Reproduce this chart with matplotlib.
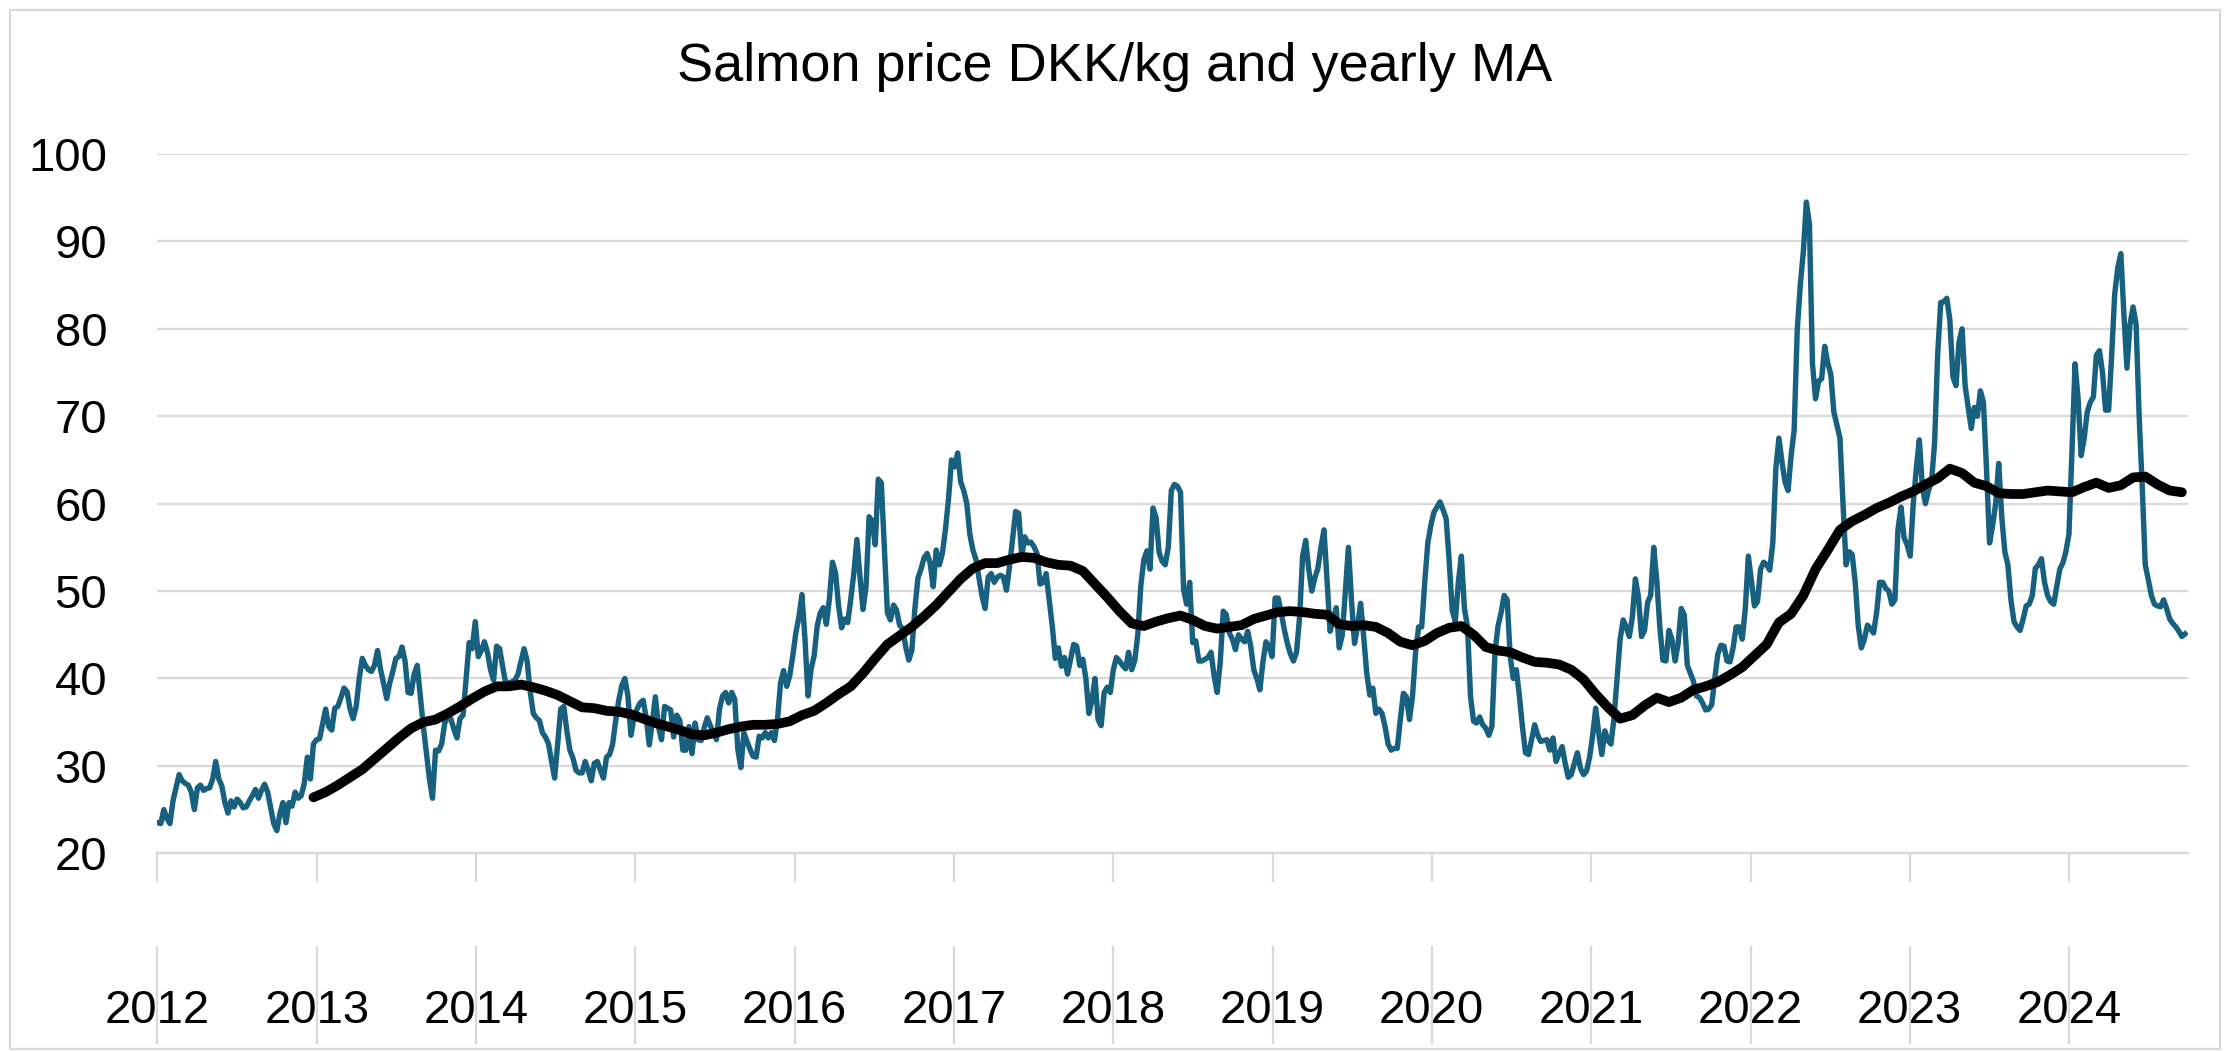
import datetime as dt

import matplotlib
matplotlib.use("Agg")
import matplotlib.pyplot as plt
import pandas as pd
from matplotlib.patches import Rectangle

# weekly salmon price in DKK/kg, one value per week from the first week of 2012
price = [
    23.5, 23.4, 25.0, 24.0, 23.4, 26.0, 27.5, 29.0, 28.3, 28.0, 27.8, 27.0, 25.0,
    27.5, 27.8, 27.2, 27.4, 27.5, 28.5, 30.5, 28.5, 27.7, 25.8, 24.6, 26.0, 25.3,
    26.2, 25.8, 25.2, 25.3, 26.0, 26.6, 27.3, 26.3, 27.2, 27.9, 27.0, 25.2, 23.4,
    22.6, 24.5, 25.8, 23.5, 25.8, 25.4, 27.0, 26.3, 26.6, 28.0, 31.0, 28.5, 32.5,
    33.0, 33.1, 34.8, 36.5, 34.5, 34.1, 36.6, 36.8, 37.8, 38.9, 38.5, 36.5, 35.4,
    36.8, 40.0, 42.3, 41.5, 41.0, 40.8, 41.5, 43.2, 41.0, 39.4, 37.7, 39.5, 40.8,
    42.3, 42.5, 43.6, 42.0, 38.4, 38.3, 40.5, 41.5, 38.0, 34.5, 31.5, 28.5, 26.3,
    31.8, 31.7, 32.5, 34.9, 35.6, 35.4, 34.2, 33.2, 35.4, 35.8, 40.0, 44.1, 43.4,
    46.5, 42.5, 43.2, 44.2, 43.0, 41.0, 39.8, 43.7, 43.4, 41.3, 39.4, 39.5, 39.6,
    39.8, 40.5, 42.0, 43.4, 42.0, 38.5, 36.0, 35.5, 35.2, 33.8, 33.3, 32.5, 30.5,
    28.6, 32.5, 36.5, 36.8, 34.0, 31.8, 30.9, 29.5, 29.2, 29.2, 30.5, 29.5, 28.3,
    30.3, 30.5, 29.5, 28.6, 31.0, 31.3, 32.5, 35.2, 37.5, 39.2, 40.0, 38.0, 33.5,
    35.6, 36.5, 37.2, 37.5, 35.5, 32.4, 35.0, 37.9, 34.5, 33.0, 36.8, 36.6, 36.4,
    33.3, 35.8, 35.2, 31.8, 31.8, 34.5, 31.4, 34.9, 33.0, 32.9, 34.4, 35.5, 34.6,
    33.8, 33.0, 36.5, 38.0, 38.4, 37.2, 38.4, 37.6, 31.9, 29.8, 33.8, 32.8, 31.9,
    31.1, 31.0, 33.4, 33.2, 33.8, 33.2, 33.8, 32.9, 35.3, 39.5, 40.9, 39.1, 40.3,
    42.6, 45.2, 47.0, 49.6, 44.5, 38.0, 41.1, 42.6, 46.0, 47.5, 48.1, 46.2, 49.1,
    53.3, 52.1, 48.3, 45.8, 46.8, 46.4, 49.1, 52.0, 55.9, 51.7, 47.9, 50.5, 58.5,
    58.0, 55.3, 62.8, 62.4, 55.0, 47.5, 46.7, 48.4, 47.8, 46.1, 45.7, 43.6, 42.1,
    43.2, 48.0, 51.5, 52.5, 53.8, 54.3, 53.2, 50.5, 54.7, 53.0, 54.3, 57.0, 60.5,
    65.0, 64.2, 65.8, 62.5, 61.5, 60.0, 56.5, 54.7, 53.6, 51.5, 49.4, 48.0, 51.6,
    52.0, 51.0, 51.6, 51.8, 51.6, 50.1, 52.8, 56.0, 59.1, 58.9, 54.0, 56.2, 55.5,
    55.6, 55.1, 54.3, 50.8, 51.0, 52.0, 49.0, 46.0, 42.3, 43.5, 41.4, 42.4, 40.5,
    42.2, 43.9, 43.7, 41.5, 42.2, 40.0, 36.0, 37.5, 40.0, 35.3, 34.6, 38.4, 39.0,
    38.4, 41.0, 42.4, 42.0, 41.5, 41.1, 43.0, 41.0, 42.0, 45.0, 50.6, 53.6, 54.6,
    52.5, 59.5, 58.4, 54.4, 53.4, 53.0, 55.0, 61.5, 62.2, 62.0, 61.3, 50.2, 48.5,
    51.0, 44.1, 44.3, 42.0, 42.0, 42.2, 42.4, 43.0, 40.3, 38.4, 41.8, 47.7, 47.3,
    45.2, 44.5, 43.3, 45.0, 44.5, 44.2, 45.4, 43.7, 41.0, 40.0, 38.7, 41.9, 44.2,
    43.7, 42.5, 49.2, 49.2, 47.5, 45.6, 44.0, 42.8, 42.0, 43.0, 47.0, 54.0, 55.8,
    52.5, 50.0, 51.5, 52.6, 55.0, 57.0, 51.3, 45.4, 46.7, 48.1, 43.5, 45.0, 50.0,
    55.0, 49.0, 44.0, 46.0, 48.6, 44.8, 40.6, 38.1, 38.9, 36.0, 36.5, 36.0, 34.5,
    32.5, 31.8, 32.0, 32.0, 35.3, 38.3, 37.9, 35.3, 38.0, 43.0, 45.9, 45.9, 51.0,
    55.5, 57.5, 59.0, 59.6, 60.2, 59.3, 58.3, 53.5, 47.8, 46.5, 51.0, 54.0, 48.0,
    45.9, 37.9, 35.1, 34.9, 35.6, 34.7, 34.3, 33.5, 34.5, 43.0, 46.0, 47.5, 49.5,
    49.0, 42.5, 40.0, 41.0, 38.0, 34.5, 31.5, 31.3, 33.0, 34.7, 33.5, 32.8, 32.9,
    33.0, 31.8, 33.2, 30.5, 31.4, 32.2, 30.3, 28.7, 29.0, 30.3, 31.5, 29.7, 29.0,
    29.4, 31.0, 33.5, 36.6, 33.7, 31.3, 34.0, 32.9, 32.5, 35.5, 40.0, 44.5, 46.7,
    45.9, 44.8, 47.0, 51.4, 49.3, 44.8, 45.5, 48.7, 49.5, 55.0, 51.2, 45.9, 42.1,
    42.0, 45.5, 44.4, 42.0, 44.0, 48.0, 47.3, 41.5, 40.6, 39.7, 38.0, 37.8, 37.2,
    36.4, 36.5, 37.0, 40.0, 42.8, 43.8, 43.7, 42.0, 41.9, 43.5, 45.9, 45.9, 44.5,
    48.0, 54.0, 51.2, 48.3, 48.8, 52.5, 53.3, 53.0, 52.4, 55.5, 64.0, 67.5, 64.8,
    62.5, 61.5, 65.5, 68.4, 79.8, 85.0, 88.8, 94.5, 92.0, 76.0, 72.0, 74.0, 74.3,
    78.0, 76.1, 74.8, 70.5, 69.0, 67.5, 60.0, 53.0, 54.5, 54.2, 51.0, 46.0, 43.5,
    44.5, 46.1, 45.7, 45.2, 47.5, 51.0, 51.0, 50.3, 50.0, 48.5, 49.0, 57.0, 59.6,
    56.1, 55.3, 54.0, 60.0, 64.0, 67.3, 61.8, 60.0, 61.5, 62.5, 67.0, 77.0, 83.0,
    83.1, 83.5, 81.0, 74.5, 73.5, 78.5, 80.0, 73.5, 71.0, 68.6, 71.0, 70.0, 72.9,
    71.6, 64.0, 55.5, 57.5, 60.0, 64.6, 58.5, 54.5, 53.0, 49.0, 46.5, 45.9, 45.5,
    46.8, 48.3, 48.5, 49.5, 52.6, 53.0, 53.7, 51.0, 49.5, 48.8, 48.5, 50.5, 52.5,
    53.2, 54.5, 56.5, 66.0, 76.0, 72.0, 65.5, 67.5, 70.5, 71.6, 72.2, 77.0, 77.5,
    75.0, 70.7, 70.7, 77.0, 84.0, 87.0, 88.6, 81.7, 75.5, 80.5, 82.5, 80.5, 70.0,
    62.0, 53.0, 51.3, 49.5, 48.5, 48.3, 48.2, 49.0, 48.0, 46.8, 46.3, 45.9, 45.4,
    44.8, 45.1,
]

ma_yearly = [
    26.4, 27.0, 27.8, 28.7, 29.6, 30.8, 32.0, 33.2, 34.3, 35.0, 35.3, 36.0, 36.8, 37.7,
    38.5, 39.1, 39.1, 39.3, 39.0, 38.6, 38.1, 37.4, 36.7, 36.6, 36.3, 36.2, 35.9, 35.4,
    34.9, 34.5, 34.1, 33.6, 33.5, 33.8, 34.2, 34.5, 34.7, 34.7, 34.8, 35.1, 35.8, 36.3,
    37.2, 38.2, 39.1, 40.6, 42.3, 43.9, 44.9, 45.9, 47.1, 48.4, 49.9, 51.4, 52.6, 53.2,
    53.2, 53.6, 53.9, 53.8, 53.3, 53.0, 52.9, 52.3, 50.8, 49.3, 47.7, 46.3, 46.0, 46.5,
    46.9, 47.2, 46.7, 46.0, 45.7, 45.9, 46.1, 46.8, 47.2, 47.6, 47.7, 47.6, 47.4, 47.3,
    46.2, 46.0, 46.1, 45.9, 45.2, 44.2, 43.8, 44.3, 45.2, 45.8, 46.0, 45.0, 43.6, 43.2,
    43.0, 42.4, 41.9, 41.8, 41.6, 41.0, 39.9, 38.2, 36.7, 35.4, 35.8, 36.9, 37.8, 37.3,
    37.8, 38.7, 39.1, 39.6, 40.4, 41.3, 42.6, 43.9, 46.4, 47.4, 49.5, 52.5, 54.7, 57.0,
    58.0, 58.7, 59.5, 60.1, 60.8, 61.4, 62.2, 62.9, 64.0, 63.5, 62.4, 62.0, 61.2, 61.1,
    61.1, 61.3, 61.5, 61.4, 61.3, 61.9, 62.4, 61.8, 62.1, 63.0, 63.1, 62.2, 61.5, 61.3,
]
ma_first_week = 51

years = list(range(2012, 2025))
y_ticks = [20, 30, 40, 50, 60, 70, 80, 90, 100]
title = "Salmon price DKK/kg and yearly MA"

BLUE = "#18607f"
GRID = "#d9d9d9"
W, H = 2230, 1051

plt.rcParams["font.family"] = ["Liberation Sans", "DejaVu Sans"]

weeks = pd.date_range("2012-01-02", periods=len(price), freq="7D")
ma_dates = pd.date_range(weeks[ma_first_week], periods=len(ma_yearly), freq="28D")

fig = plt.figure(figsize=(W / 100, H / 100), dpi=100)
# plot area in pixels: left 157, right 2188, top 154, bottom 853
ax = fig.add_axes([157.3 / W, (H - 853.3) / H, (2188 - 157.3) / W, (853.3 - 154) / H])

ax.plot(weeks, price, color=BLUE, lw=3.9, solid_joinstyle="round", zorder=3)
ax.plot(ma_dates, ma_yearly, color="black", lw=7.0, solid_capstyle="round",
        solid_joinstyle="round", zorder=4)

ax.set_ylim(20, 100)
ax.set_yticks(y_ticks)
ax.set_xlim(dt.date(2012, 1, 1), dt.date(2024, 9, 30))
ax.set_xticks([dt.date(y, 1, 1) for y in years])
ax.grid(axis="y", color=GRID, lw=1.6)
ax.set_axisbelow(True)
for side in ["left", "right", "top"]:
    ax.spines[side].set_visible(False)
ax.spines["bottom"].set_color(GRID)
ax.spines["bottom"].set_linewidth(1.6)

ax.tick_params(axis="y", length=0, pad=36, labelsize=34)
ax.tick_params(axis="x", length=21, width=1.6, color=GRID, labelbottom=False)

# year labels sit low, between a second row of tick lines
xt = ax.get_xaxis_transform()
for y in years:
    d = dt.date(y, 1, 1)
    ax.plot([d, d], [-0.134, -0.271], transform=xt, color=GRID, lw=1.6, clip_on=False)
    ax.text(d, -0.225, str(y), transform=xt, ha="center", va="center", fontsize=34)

fig.text(0.5, 1 - 67 / H, title, ha="center", va="center", fontsize=39)

# chart border
fig.add_artist(Rectangle((10 / W, 0.002), (W - 20) / W, 1 - 12 / H, transform=fig.transFigure,
                         fill=False, edgecolor=GRID, lw=1.6))

fig.savefig("out.png", dpi=100)
